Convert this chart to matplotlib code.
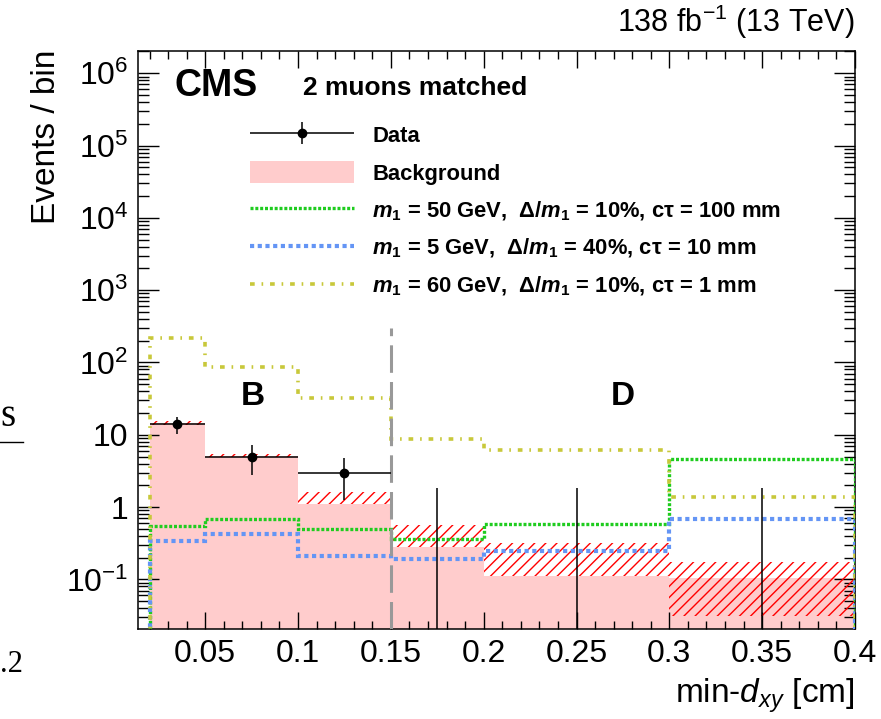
import matplotlib
matplotlib.use("Agg")
import matplotlib.pyplot as plt
import numpy as np
from matplotlib.ticker import MultipleLocator, LogLocator, FuncFormatter, NullFormatter
from matplotlib.lines import Line2D
from matplotlib.patches import Patch
from matplotlib.container import ErrorbarContainer
from matplotlib.legend_handler import HandlerErrorbar

plt.rcParams['font.family'] = ['Liberation Sans', 'DejaVu Sans']
plt.rcParams['mathtext.fontset'] = 'custom'
plt.rcParams['mathtext.rm'] = 'Liberation Sans'
plt.rcParams['mathtext.it'] = 'Liberation Sans:italic'
plt.rcParams['mathtext.bf'] = 'Liberation Sans:bold'
plt.rcParams['mathtext.bfit'] = 'Liberation Sans:italic:bold'
plt.rcParams['hatch.linewidth'] = 1.0

# bins in min-dxy [cm]
edges = [0.02, 0.05, 0.1, 0.15, 0.2, 0.3, 0.4]

# data (zero bins only show the upper error)
data_y = [14, 5, 3, 0, 0, 0]
data_err_lo = [3.74, 2.24, 1.73, 0, 0, 0]
data_err_hi = [3.74, 2.24, 1.73, 1.84, 1.84, 1.84]

# background prediction and its band
bkg = [14.4, 5.1, 1.12, 0.28, 0.11, 0.103]
bkg_lo = [13.7, 4.85, 1.12, 0.28, 0.11, 0.031]
bkg_hi = [15.7, 5.35, 1.63, 0.56, 0.315, 0.175]

# signals
sig_50_100 = [0.55, 0.68, 0.49, 0.36, 0.58, 4.66]
sig_5_10 = [0.34, 0.42, 0.21, 0.19, 0.25, 0.69]
sig_60_1 = [215, 87, 32.6, 8.75, 6.16, 1.36]

boundary_x = 0.15
boundary_top = 300
ylo, yhi = 0.0206, 2.05e6

edges_a = np.array(edges)
centers = 0.5 * (edges_a[1:] + edges_a[:-1])
halfw = 0.5 * np.diff(edges_a)

fig = plt.figure(figsize=(8.81, 7.19), dpi=100)
ax = fig.add_axes([138/881, 90/719, 717/881, 578.3/719])

pink = '#ffcccc'
green = '#1fcc1f'
blue = '#6495f5'
yellow = '#c8c83a'

ax.stairs(bkg, edges, baseline=1e-4, fill=True, color=pink, lw=0, zorder=1)
ax.stairs(bkg_hi, edges, baseline=bkg_lo, fill=True, facecolor='none',
          edgecolor='red', hatch='///', lw=0, zorder=2)

ls_green = (0, (0.9, 0.55))
ls_blue = (0, (1.0, 0.85))
ls_yellow = (0, (1.3, 1.9, 0.45, 1.9))
ax.stairs(sig_50_100, edges, baseline=1e-4, color=green, lw=2.4, ls=ls_green, zorder=3)
ax.stairs(sig_5_10, edges, baseline=1e-4, color=blue, lw=3.0, ls=ls_blue, zorder=3)
ax.stairs(sig_60_1, edges, baseline=1e-4, color=yellow, lw=2.6, ls=ls_yellow, zorder=3)

eb = ax.errorbar(centers, data_y, xerr=halfw, yerr=[data_err_lo, data_err_hi],
                 fmt='o', color='black', ms=6, elinewidth=1.1, capsize=0, zorder=5)

ax.vlines(boundary_x, ylo, boundary_top, colors='#999999', lw=2.2,
          linestyles=(0, (9, 3)), zorder=4)

ax.text(0.0755, 26, 'B', fontsize=24, fontweight='bold', ha='center', va='baseline')
ax.text(0.275, 26, 'D', fontsize=24, fontweight='bold', ha='center', va='baseline')

ax.set_yscale('log')
ax.set_xlim(0.0138, 0.4)
ax.set_ylim(ylo, yhi)
ax.xaxis.set_major_locator(MultipleLocator(0.05))
ax.xaxis.set_minor_locator(MultipleLocator(0.01))
ax.xaxis.set_major_formatter(FuncFormatter(lambda v, p: '%g' % round(v, 3)))
ax.yaxis.set_major_locator(LogLocator(base=10, numticks=20))
ax.yaxis.set_minor_locator(LogLocator(base=10, subs=np.arange(2, 10), numticks=20))
ax.yaxis.set_minor_formatter(NullFormatter())


def ylab(v, pos):
    e = int(round(np.log10(v)))
    if e == 0:
        return '1'
    if e == 1:
        return '10'
    return '$10^{%d}$' % e


ax.yaxis.set_major_formatter(FuncFormatter(ylab))
ax.tick_params(which='both', direction='in', top=True, right=True, labelsize=23, width=1.0)
ax.tick_params(axis='x', which='major', length=12, pad=7)
ax.tick_params(axis='x', which='minor', length=6)
ax.tick_params(axis='y', which='major', length=15, pad=7)
ax.tick_params(axis='y', which='minor', length=8)
for s in ax.spines.values():
    s.set_linewidth(1.1)

handles = [
    eb,
    Patch(facecolor=pink, edgecolor='none'),
    Line2D([], [], color=green, lw=2.4, ls=ls_green),
    Line2D([], [], color=blue, lw=3.0, ls=ls_blue),
    Line2D([], [], color=yellow, lw=2.6, ls=ls_yellow),
]
m1 = r'$\mathbfit{m}_{\mathbf{1}}$'
labels = [
    'Data',
    'Background',
    m1 + ' = 50 GeV,  Δ/' + m1 + ' = 10%, cτ = 100 mm',
    m1 + ' = 5 GeV,  Δ/' + m1 + ' = 40%, cτ = 10 mm',
    m1 + ' = 60 GeV,  Δ/' + m1 + ' = 10%, cτ = 1 mm',
]
fs_leg = 15.8
ax.legend(handles, labels, loc='upper left', bbox_to_anchor=(0.156, 0.873),
          frameon=False, borderpad=0, borderaxespad=0, handlelength=75/fs_leg,
          handleheight=18/fs_leg, handletextpad=13/fs_leg, labelspacing=0.64,
          prop={'size': fs_leg, 'weight': 'bold'},
          handler_map={ErrorbarContainer: HandlerErrorbar(xerr_size=37.5/fs_leg,
                                                          yerr_size=8/fs_leg)})

fig.text(175/881, 1 - 96.5/719, 'CMS', fontsize=27, fontweight='bold', va='baseline')
fig.text(303/881, 1 - 95/719, '2 muons matched', fontsize=19, fontweight='bold', va='baseline')
fig.text(855/881, 1 - 32/719, r'138 fb$^{\mathregular{-1}}$ (13 TeV)', fontsize=22,
         ha='right', va='baseline')
fig.text(47/881, 1 - 50/719, 'Events / bin', fontsize=24, rotation=90, ha='center', va='top')
fig.text(855/881, 1 - 703/719, r'min-$d_{xy}$ [cm]', fontsize=24, ha='right', va='baseline')

# pieces of the neighbouring panel on the left edge
fig.text(0, 1 - 426/719, 's', fontsize=28, family='Liberation Serif', va='baseline')
fig.add_artist(Line2D([0, 23/881], [1 - 442/719, 1 - 442/719], color='black', lw=1.0))
fig.text(0, 1 - 672/719, '.2', fontsize=22, family='Liberation Serif', va='baseline')

fig.savefig('out.png', dpi=100)
